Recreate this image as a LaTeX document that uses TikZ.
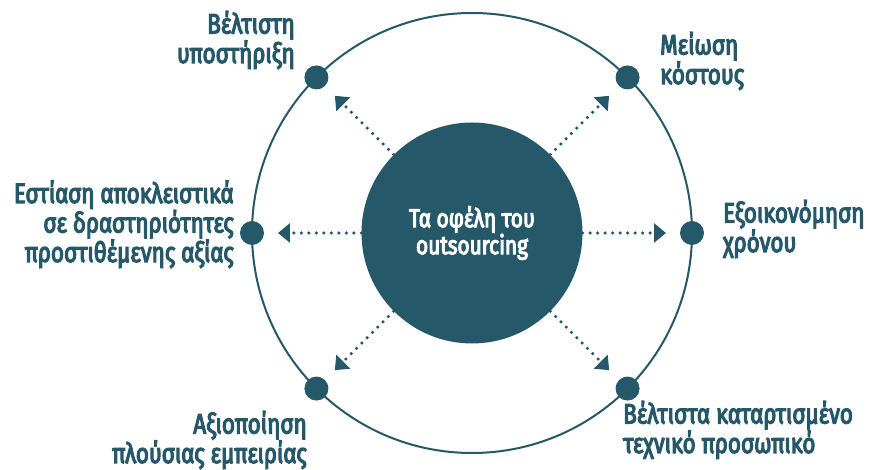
\documentclass[tikz,border=0pt]{standalone}
\usepackage{fontspec}
\setmainfont{Fira Sans}[FakeStretch=0.8,FakeBold=4]
\usepackage{tikz}
\usetikzlibrary{arrows.meta, positioning}
\definecolor{petrol}{RGB}{37,88,104}

\begin{document}
\begin{tikzpicture}[x=1pt, y=1pt,
  hub/.style={circle, fill=petrol, minimum size=221pt, inner sep=0pt, text=white,
    align=center, font=\fontsize{26}{27}\selectfont},
  spot/.style={circle, fill=petrol, minimum size=24pt, inner sep=0pt},
  benefit/.style={text=petrol, inner sep=0pt, font=\fontsize{28}{29.5}\selectfont},
  link/.style={petrol, line width=3.5pt, line cap=round, dash pattern=on 0pt off 7.5pt,
    -{Triangle[length=12pt, width=19pt]}}]
  \useasboundingbox (-472,-237) rectangle (401,233);
  % Outer ring
  \node[draw=petrol, line width=2pt, circle, minimum size=440pt, inner sep=0pt] (ring) at (0,0) {};
  % Centre
  \node[hub] (hub) at (0,0) {Τα οφέλη του\\outsourcing};
  % Dots on the ring and arrows
  \foreach \a/\n in {45/ne, 135/nw, 180/w, 225/sw, 315/se, 0/e} {
    \node[spot] (dot-\n) at (\a:220) {};
    \coordinate (tip-\n) at (\a:194);
    \draw[link] (hub.\a) -- (tip-\n);
  }
  % Labels (anchored at the baseline of the last line)
  \node[benefit, anchor=base east, align=right] (lab-nw) at (-177,170) {Βέλτιστη\\υποστήριξη};
  \node[benefit, anchor=base west, align=left] (lab-ne) at (188,149) {Μείωση\\κόστους};
  \node[benefit, anchor=base east, align=right] (lab-w) at (-238,-29) {Εστίαση αποκλειστικά\\σε δραστηριότητες\\προστιθέμενης αξίας};
  \node[benefit, anchor=base west, align=left] (lab-e) at (251,-19) {Εξοικονόμηση\\χρόνου};
  \node[benefit, anchor=base east, align=right] (lab-sw) at (-165,-230) {Αξιοποίηση\\πλούσιας εμπειρίας};
  \node[benefit, anchor=base west, align=left] (lab-se) at (151,-220) {Βέλτιστα καταρτισμένο\\τεχνικό προσωπικό};
\end{tikzpicture}
\end{document}
